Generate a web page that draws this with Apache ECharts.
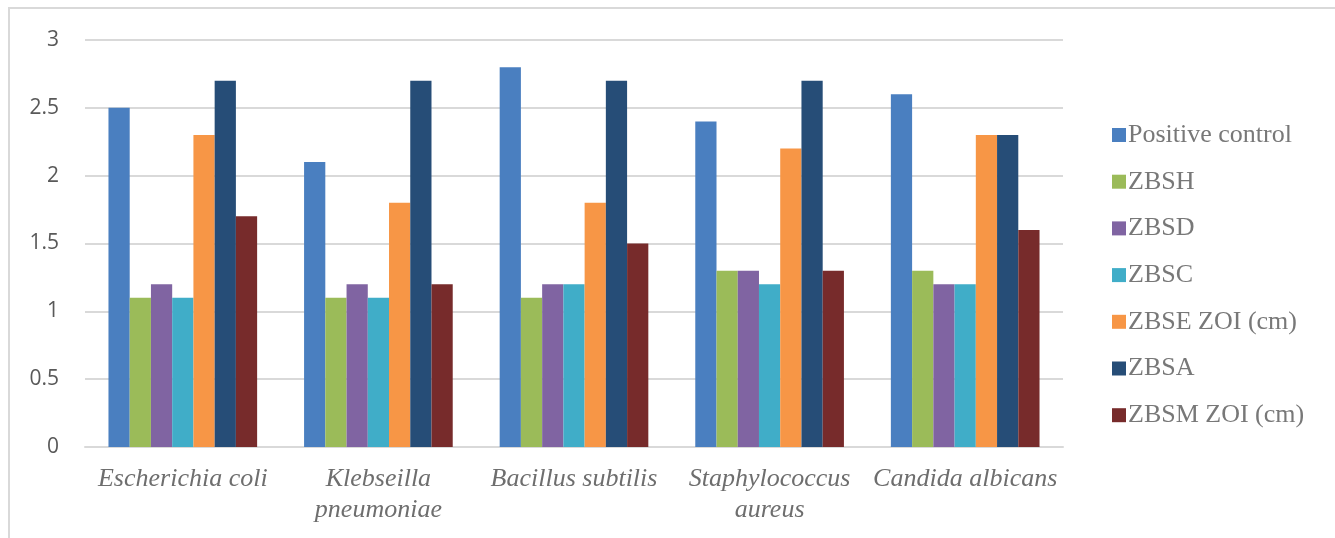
<!DOCTYPE html>
<html>
<head>
<meta charset="utf-8">
<script src="https://cdn.jsdelivr.net/npm/echarts@6/dist/echarts.min.js"></script>
<style>
  html, body { margin: 0; padding: 0; background: #fff; }
  #frame { position: absolute; left: 8px; top: 7px; width: 1340px; height: 540px; border: 2px solid #d9d9d9; box-sizing: border-box; }
  #chart { position: absolute; left: 0; top: 0; width: 1335px; height: 538px; }
</style>
</head>
<body>
<div id="frame"></div>
<div id="chart"></div>
<script>
// Zone of inhibition (cm) by organism
const categories = ['Escherichia coli', 'Klebseilla\npneumoniae', 'Bacillus subtilis', 'Staphylococcus\naureus', 'Candida albicans'];
const seriesNames = ['Positive control', 'ZBSH', 'ZBSD', 'ZBSC', 'ZBSE ZOI (cm)', 'ZBSA', 'ZBSM ZOI (cm)'];
const positiveControl = [2.5, 2.1, 2.8, 2.4, 2.6];
const zbsh = [1.1, 1.1, 1.1, 1.3, 1.3];
const zbsd = [1.2, 1.2, 1.2, 1.3, 1.2];
const zbsc = [1.1, 1.1, 1.2, 1.2, 1.2];
const zbse = [2.3, 1.8, 1.8, 2.2, 2.3];
const zbsa = [2.7, 2.7, 2.7, 2.7, 2.3];
const zbsm = [1.7, 1.2, 1.5, 1.3, 1.6];
const yTicks = [0, 0.5, 1, 1.5, 2, 2.5, 3];

const colors = ['#4a7fc0', '#9bbb59', '#8064a2', '#40adc8', '#f79646', '#264d77', '#772b2b'];
const values = [positiveControl, zbsh, zbsd, zbsc, zbse, zbsa, zbsm];

const chart = echarts.init(document.getElementById('chart'), null, { renderer: 'canvas' });
chart.setOption({
  animation: false,
  color: colors,
  grid: { left: 85, right: 272, top: 40, bottom: 91, containLabel: false },
  legend: {
    orient: 'vertical',
    left: 1107,
    top: 117,
    itemWidth: 14,
    itemHeight: 14,
    itemGap: 20.7,
    icon: 'rect',
    textStyle: { fontFamily: 'Liberation Serif', fontSize: 26, lineHeight: 26, color: '#787878', padding: [0, 0, 0, -3] },
    data: seriesNames
  },
  xAxis: {
    type: 'category',
    data: categories,
    axisLine: { lineStyle: { color: '#d9d9d9', width: 2 } },
    axisTick: { show: false },
    axisLabel: {
      fontFamily: 'Liberation Serif', fontStyle: 'italic', fontSize: 26, color: '#6e6e6e',
      lineHeight: 31, margin: 17, interval: 0
    }
  },
  yAxis: {
    type: 'value',
    min: yTicks[0],
    max: yTicks[yTicks.length - 1],
    interval: 0.5,
    axisLine: { show: false },
    axisTick: { show: false },
    splitLine: { lineStyle: { color: '#d9d9d9', width: 2 } },
    axisLabel: { fontFamily: 'Open Sans', fontSize: 21, color: '#595959', margin: 26 }
  },
  series: seriesNames.map((name, i) => ({
    name,
    type: 'bar',
    data: values[i],
    barGap: '0%',
    barCategoryGap: '24%'
  }))
});
</script>
</body>
</html>
